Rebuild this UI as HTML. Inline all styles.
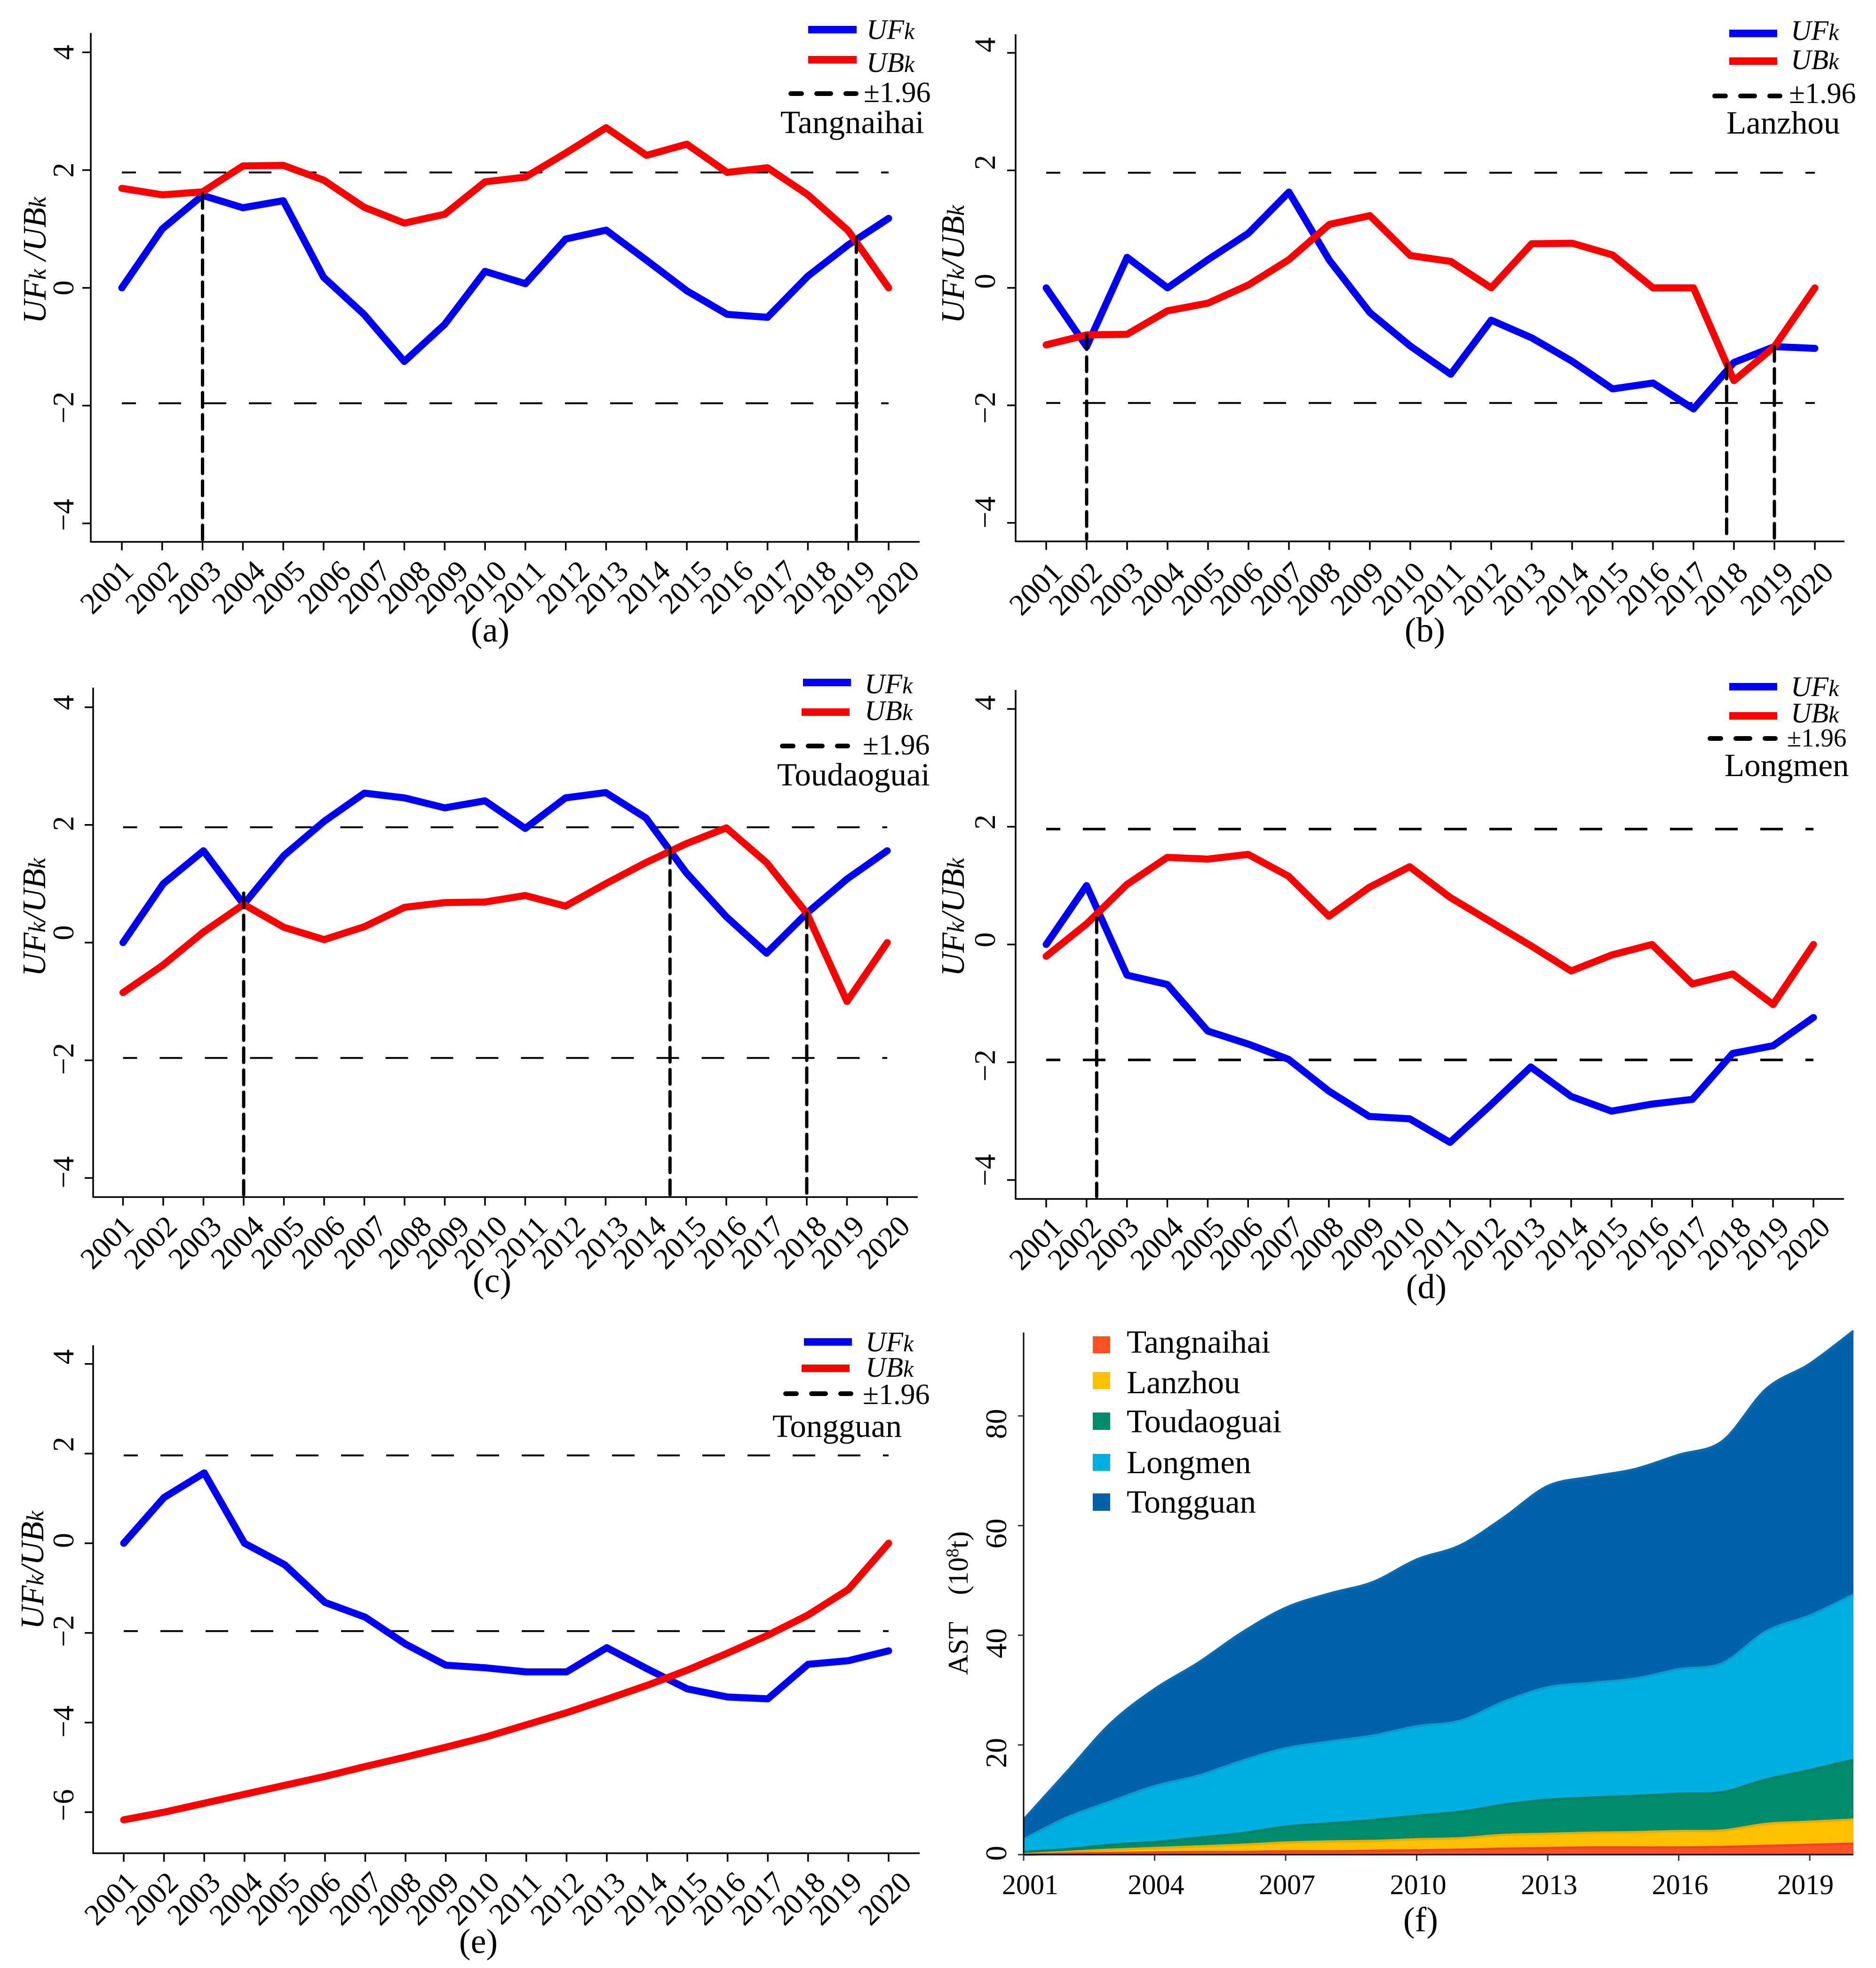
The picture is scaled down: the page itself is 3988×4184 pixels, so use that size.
<!DOCTYPE html>
<html lang="en">
<head>
<meta charset="utf-8">
<title>Mann-Kendall test panels and accumulated sediment area chart</title>
<style>
html,body{margin:0;padding:0;background:#fff;}
svg{display:block;}
text{font-family:"Liberation Serif","Times New Roman",serif;fill:#000;}
.lg{font-style:italic;font-size:60px;}
.lg tspan{font-size:50px;}
.ttl{font-style:italic;font-size:70px;}
.ttl tspan{font-size:52px;}
.num{font-size:62px;}
.st{font-size:69px;}
.pl{font-size:74px;text-anchor:middle;}
.ft{font-size:60px;}
</style>
</head>
<body>
<svg id="figure" xmlns="http://www.w3.org/2000/svg" width="3988" height="4184" viewBox="0 0 3988 4184">
<rect x="0" y="0" width="3988" height="4184" fill="#fff"/>

<g id="panel-a">
  <text class="ttl" transform="translate(97,688) rotate(-90)">UF<tspan>k</tspan> /UB<tspan>k</tspan></text>
  <rect x="1718" y="55" width="103" height="16" fill="#0000ff"/>
  <text class="lg" x="1842" y="83">UF<tspan>k</tspan></text>
  <rect x="1718" y="119" width="103" height="16" fill="#ff0000"/>
  <text class="lg" x="1842" y="153">UB<tspan>k</tspan></text>
  <line x1="1681" x2="1820" y1="199" y2="199" stroke="#000" stroke-width="10" stroke-linecap="round" stroke-dasharray="23 32 30 32 23"/>
  <text class="num" x="1836" y="217">±1.96</text>
  <text class="st" x="1659" y="283">Tangnaihai</text>
  <text class="pl" x="1042" y="1364">(a)</text>
</g>

<g id="panel-b">
  <text class="ttl" transform="translate(2049,688) rotate(-90)">UF<tspan>k</tspan>/UB<tspan>k</tspan></text>
  <rect x="3676" y="63" width="102" height="16" fill="#0000ff"/>
  <text class="lg" x="3807" y="85">UF<tspan>k</tspan></text>
  <rect x="3676" y="122" width="102" height="16" fill="#ff0000"/>
  <text class="lg" x="3807" y="147">UB<tspan>k</tspan></text>
  <line x1="3645" x2="3784" y1="204" y2="204" stroke="#000" stroke-width="10" stroke-linecap="round" stroke-dasharray="23 32 30 32 23"/>
  <text class="num" x="3803" y="219">±1.96</text>
  <text class="st" x="3670" y="284">Lanzhou</text>
  <text class="pl" x="3029" y="1364">(b)</text>
</g>

<g id="panel-c">
  <text class="ttl" transform="translate(96,2076) rotate(-90)">UF<tspan>k</tspan>/UB<tspan>k</tspan></text>
  <rect x="1707" y="1443" width="102" height="16" fill="#0000ff"/>
  <text class="lg" x="1838" y="1474">UF<tspan>k</tspan></text>
  <rect x="1704" y="1506" width="102" height="16" fill="#ff0000"/>
  <text class="lg" x="1838" y="1531">UB<tspan>k</tspan></text>
  <line x1="1663" x2="1802" y1="1586" y2="1586" stroke="#000" stroke-width="10" stroke-linecap="round" stroke-dasharray="23 32 30 32 23"/>
  <text class="num" x="1834" y="1604">±1.96</text>
  <text class="st" x="1652" y="1670">Toudaoguai</text>
  <text class="pl" x="1046" y="2747">(c)</text>
</g>

<g id="panel-d">
  <text class="ttl" transform="translate(2049,2076) rotate(-90)">UF<tspan>k</tspan>/UB<tspan>k</tspan></text>
  <rect x="3676" y="1452" width="102" height="16" fill="#0000ff"/>
  <text class="lg" x="3807" y="1480">UF<tspan>k</tspan></text>
  <rect x="3676" y="1514" width="102" height="16" fill="#ff0000"/>
  <text class="lg" x="3807" y="1536">UB<tspan>k</tspan></text>
  <line x1="3635" x2="3774" y1="1570" y2="1570" stroke="#000" stroke-width="10" stroke-linecap="round" stroke-dasharray="23 32 30 32 23"/>
  <text class="num" style="font-size:55px" x="3799" y="1587">±1.96</text>
  <text class="st" x="3666" y="1650">Longmen</text>
  <text class="pl" x="3032" y="2760">(d)</text>
</g>

<g id="panel-e">
  <text class="ttl" transform="translate(92,3464) rotate(-90)">UF<tspan>k</tspan>/UB<tspan>k</tspan></text>
  <rect x="1709" y="2845" width="102" height="16" fill="#0000ff"/>
  <text class="lg" x="1840" y="2873">UF<tspan>k</tspan></text>
  <rect x="1704" y="2901" width="102" height="16" fill="#ff0000"/>
  <text class="lg" x="1840" y="2927">UB<tspan>k</tspan></text>
  <line x1="1670" x2="1809" y1="2963" y2="2963" stroke="#000" stroke-width="10" stroke-linecap="round" stroke-dasharray="23 32 30 32 23"/>
  <text class="num" x="1834" y="2985">±1.96</text>
  <text class="st" x="1642" y="3055">Tongguan</text>
  <text class="pl" x="1017" y="4152">(e)</text>
</g>

<g id="panel-f">
  <g id="area-layer"></g>
  <g id="f-axes"></g>
  <text class="ft" transform="translate(2057,3561) rotate(-90)">AST</text>
  <text class="ft" transform="translate(2057,3391) rotate(-90)">(10<tspan font-size="38" dy="-20">8</tspan><tspan dy="20">t)</tspan></text>
  <rect x="2323" y="2841" width="37" height="36" fill="#ff5023"/>
  <text class="st" x="2395" y="2876">Tangnaihai</text>
  <rect x="2323" y="2917" width="37" height="36" fill="#ffc000"/>
  <text class="st" x="2395" y="2962">Lanzhou</text>
  <rect x="2323" y="3003" width="37" height="37" fill="#008c6a"/>
  <text class="st" style="font-size:70px" x="2395" y="3045">Toudaoguai</text>
  <rect x="2323" y="3091" width="37" height="36" fill="#00b0e0"/>
  <text class="st" x="2395" y="3132">Longmen</text>
  <rect x="2323" y="3175" width="37" height="37" fill="#0062ab"/>
  <text class="st" x="2395" y="3216">Tongguan</text>
  <text class="pl" x="3020" y="4106">(f)</text>
</g>
</svg>

<script>
// ---- shared categories and tick labels ----
const years = [2001,2002,2003,2004,2005,2006,2007,2008,2009,2010,2011,2012,2013,2014,2015,2016,2017,2018,2019,2020];
const mkYTicks = [-4,-2,0,2,4];
const mkYTicksTongguan = [-6,-4,-2,0,2,4];
const thresholdValues = [1.96,-1.96];

// ---- Mann-Kendall series ----
const ufTangnaihai = [0,1.0,1.57,1.36,1.48,0.18,-0.45,-1.25,-0.62,0.28,0.07,0.83,0.98,0.47,-0.05,-0.45,-0.5,0.2,0.73,1.18];
const ubTangnaihai = [1.69,1.58,1.63,2.07,2.08,1.83,1.37,1.10,1.25,1.80,1.88,2.29,2.72,2.25,2.44,1.96,2.04,1.58,0.97,0];
const changeYearsTangnaihai = [2003,2019.2];
const changeValuesTangnaihai = [1.6,0.85];

const ufLanzhou = [0,-1.0,0.52,0,0.48,0.93,1.63,0.47,-0.42,-0.99,-1.47,-0.55,-0.85,-1.25,-1.72,-1.62,-2.06,-1.27,-1.0,-1.03];
const ubLanzhou = [-0.97,-0.8,-0.79,-0.39,-0.26,0.05,0.48,1.08,1.23,0.55,0.45,0,0.75,0.76,0.56,0,0,-1.58,-1.0,0];
const changeYearsLanzhou = [2002,2017.82,2019];
const changeValuesLanzhou = [-0.8,-1.3,-1.0];

const ufToudaoguai = [0,1.0,1.56,0.65,1.48,2.06,2.54,2.46,2.29,2.41,1.94,2.46,2.55,2.12,1.19,0.44,-0.18,0.5,1.08,1.56];
const ubToudaoguai = [-0.85,-0.38,0.18,0.65,0.26,0.05,0.27,0.6,0.68,0.69,0.8,0.62,1.0,1.36,1.68,1.95,1.36,0.5,-1.0,0];
const changeYearsToudaoguai = [2004,2014.6,2018];
const changeValuesToudaoguai = [0.84,1.6,0.5];

const ufLongmen = [0,1.0,-0.52,-0.68,-1.47,-1.69,-1.95,-2.49,-2.92,-2.96,-3.36,-2.73,-2.08,-2.58,-2.83,-2.71,-2.63,-1.85,-1.72,-1.24];
const ubLongmen = [-0.2,0.35,1.02,1.48,1.45,1.53,1.16,0.48,0.97,1.32,0.8,0.39,-0.02,-0.45,-0.18,0,-0.67,-0.5,-1.02,0];
const changeYearsLongmen = [2002.25];
const changeValuesLongmen = [0.45];

const ufTongguan = [0,1.02,1.57,0,-0.48,-1.32,-1.65,-2.25,-2.72,-2.78,-2.87,-2.87,-2.33,-2.8,-3.25,-3.43,-3.47,-2.7,-2.62,-2.4];
const ubTongguan = [-6.17,-6.0,-5.8,-5.6,-5.4,-5.2,-4.98,-4.77,-4.55,-4.32,-4.05,-3.78,-3.48,-3.17,-2.83,-2.45,-2.05,-1.6,-1.03,0];
const changeYearsTongguan = [];
const changeValuesTongguan = [];

// ---- stacked area series (per-station contribution, 10^8 t) ----
const astYTicks = [0,20,40,60,80];
const astXTicks = [2001,2004,2007,2010,2013,2016,2019];
const astTangnaihai = [0,0.2,0.3,0.4,0.5,0.5,0.6,0.6,0.7,0.8,0.9,1.1,1.2,1.3,1.3,1.3,1.4,1.6,1.8,2.0];
const astLanzhou = [0.1,0.3,0.6,0.8,1.0,1.3,1.6,1.8,1.8,2.0,2.1,2.5,2.6,2.7,2.8,3.0,3.0,4.0,4.2,4.4];
const astToudaoguai = [0.4,0.5,0.9,1.1,1.6,2.1,2.9,3.3,3.8,4.3,4.8,5.5,6.2,6.4,6.6,6.8,7.0,8.1,9.4,10.9];
const astLongmen = [2.3,5.8,7.9,10.2,11.3,13.2,14.3,14.9,15.4,16.3,16.6,18.8,20.5,20.9,21.4,22.7,23.5,27.0,28.2,30.1];
const astTongguan = [3.6,8.4,14.3,17.7,20.6,23.4,25.6,27.0,28.0,30.4,32.0,33.6,36.7,37.6,38.2,39.1,40.5,44.2,45.9,48.1];

const SVG_NS = 'http://www.w3.org/2000/svg';
function mk(parent, tag, attrs) {
  const n = document.createElementNS(SVG_NS, tag);
  for (const k in attrs) n.setAttribute(k, attrs[k]);
  parent.appendChild(n);
  return n;
}
function fmt(v) { return v < 0 ? '\u2212' + Math.abs(v) : String(v); }

function drawMkPanel(groupId, geo, uf, ub, changeYears, changeValues, yTicks) {
  const root = document.getElementById(groupId);
  const g = mk(root, 'g', {});
  
  
  const xAt = y => geo.x2001 + (y - 2001) * (geo.x2020 - geo.x2001) / 19;
  const yAt = v => geo.y0 - v * geo.perUnit;

  thresholdValues.forEach(t => {
    const h = mk(g, 'line', {x1: xAt(2001), x2: xAt(2020), y1: yAt(t), y2: yAt(t), stroke: '#000', 'stroke-width': geo.dashW, 'stroke-dasharray': '48 48', 'stroke-dashoffset': 18});
    
    
  });

  const points = arr => arr.map((v, i) => xAt(years[i]).toFixed(1) + ',' + yAt(v).toFixed(1)).join(' ');
  const ufLine = mk(g, 'polyline', {points: points(uf), fill: 'none', stroke: '#0000ff', 'stroke-width': 15, 'stroke-linejoin': 'round', 'stroke-linecap': 'round'});
  
  
  const ubLine = mk(g, 'polyline', {points: points(ub), fill: 'none', stroke: '#ff0000', 'stroke-width': 15, 'stroke-linejoin': 'round', 'stroke-linecap': 'round'});
  
  

  changeYears.forEach((yr, i) => {
    const v = mk(g, 'line', {x1: xAt(yr), x2: xAt(yr), y1: yAt(changeValues[i]), y2: geo.bottom - 5, stroke: '#000', 'stroke-width': 7, 'stroke-linecap': 'round', 'stroke-dasharray': '31 16'});
    
    
  });

  const yAxis = mk(g, 'line', {x1: geo.left, x2: geo.left, y1: geo.top, y2: geo.bottom + 1.5, stroke: '#000', 'stroke-width': 3.5});
  
  
  const xAxis = mk(g, 'line', {x1: geo.left, x2: geo.right, y1: geo.bottom, y2: geo.bottom, stroke: '#000', 'stroke-width': 3.5});
  
  

  yTicks.forEach(t => {
    const tick = mk(g, 'line', {x1: geo.left - 18, x2: geo.left, y1: yAt(t), y2: yAt(t), stroke: '#000', 'stroke-width': 3.5});
    
    
    const lab = mk(g, 'text', {transform: 'translate(' + geo.yLabelX + ',' + (yAt(t) + (geo.yLabelShift[t] || 0)) + ') rotate(-90)', 'text-anchor': 'middle', 'font-size': 64});
    
    
    lab.textContent = fmt(t);
  });

  years.forEach((yr, i) => {
    const tick = mk(g, 'line', {x1: xAt(yr), x2: xAt(yr), y1: geo.bottom, y2: geo.bottom + 18, stroke: '#000', 'stroke-width': 3.5});
    
    
    const lab = mk(g, 'text', {transform: 'translate(' + (xAt(yr) + geo.labelShift[i]) + ',' + (geo.bottom + geo.labDy) + ') rotate(-45)', 'text-anchor': 'end', 'font-size': 64});
    
    
    lab.textContent = yr;
  });
}

drawMkPanel('panel-a', {left:193,right:1955,top:70,bottom:1152,x2001:259,x2020:1889,y0:612,perUnit:125.2,yLabelX:156,labDy:66,dashW:4,
  yLabelShift:{'-4':-18,'-2':4},
  labelShift:[28,38,43,51,51,61,61,59,54,50,46,54,51,54,57,59,65,64,61,69]}, ufTangnaihai, ubTangnaihai, changeYearsTangnaihai, changeValuesTangnaihai, mkYTicks);
drawMkPanel('panel-b', {left:2159,right:3921,top:73,bottom:1151,x2001:2224,x2020:3858,y0:612,perUnit:124.9,yLabelX:2115,labDy:70,dashW:4,
  yLabelShift:{'-4':-22,'-2':5,'0':-14,'2':-17,'4':-17},
  labelShift:[38,36,38,40,39,35,35,27,33,35,34,35,34,39,38,39,34,33,44,43]}, ufLanzhou, ubLanzhou, changeYearsLanzhou, changeValuesLanzhou, mkYTicks);
drawMkPanel('panel-c', {left:198,right:1951,top:1462,bottom:2545,x2001:261.5,x2020:1886,y0:2004,perUnit:125.1,yLabelX:156,labDy:66,dashW:4,
  yLabelShift:{'-4':-12,'-2':-3,'0':-21,'2':-3,'4':-10},
  labelShift:[26,33,42,47,47,48,52,61,56,51,51,46,52,47,47,47,42,46,41,52]}, ufToudaoguai, ubToudaoguai, changeYearsToudaoguai, changeValuesToudaoguai, mkYTicks);
drawMkPanel('panel-d', {left:2159,right:3920,top:1467,bottom:2549,x2001:2224,x2020:3855,y0:2008,perUnit:125.2,yLabelX:2115,labDy:64,dashW:5.5,
  yLabelShift:{'-4':-21,'-2':7,'0':-10,'2':-10,'4':-13},
  labelShift:[38,34,29,38,39,35,36,35,36,36,35,36,35,40,39,40,39,42,38,39]}, ufLongmen, ubLongmen, changeYearsLongmen, changeValuesLongmen, mkYTicks);
drawMkPanel('panel-e', {left:198,right:1955,top:2860,bottom:3940,x2001:263,x2020:1889,y0:3281,perUnit:95.3,yLabelX:156,labDy:66,dashW:4,
  yLabelShift:{'-6':-15,'-4':-2,'-2':-4,'0':-6,'2':-20,'4':-15},
  labelShift:[33,34,38,42,36,37,40,37,32,32,36,40,43,47,47,42,40,40,33,52]}, ufTongguan, ubTongguan, changeYearsTongguan, changeValuesTongguan, mkYTicksTongguan);

// ---- panel f: stacked area ----
(function drawArea() {
  const left = 2176, right = 3940, base = 3943, top = 2833;
  const xAt = y => left + (y - 2001) * (right - left) / 19;
  const yAt = v => base - v * 11.66;
  const stackOrder = [astTangnaihai, astLanzhou, astToudaoguai, astLongmen, astTongguan];
  const fills = ['#ff5023', '#ffc000', '#008c6a', '#00b0e0', '#0062ab'];
  const edges = ['#e8481f', '#e6ad05', '#067f62', '#0a9ccb', '#0a6cae'];
  const names = ['tangnaihai', 'lanzhou', 'toudaoguai', 'longmen', 'tongguan'];
  const cumulative = [];
  stackOrder.forEach((s, i) => {
    cumulative.push(s.map((v, j) => v + (i ? cumulative[i - 1][j] : 0)));
  });
  function curve(vals) {
    const p = vals.map((v, i) => [xAt(years[i]), yAt(v)]);
    let d = '';
    for (let i = 0; i < p.length - 1; i++) {
      const p0 = p[Math.max(i - 1, 0)], p1 = p[i], p2 = p[i + 1], p3 = p[Math.min(i + 2, p.length - 1)];
      const c1x = p1[0] + (p2[0] - p0[0]) / 6, c1y = p1[1] + (p2[1] - p0[1]) / 6;
      const c2x = p2[0] - (p3[0] - p1[0]) / 6, c2y = p2[1] - (p3[1] - p1[1]) / 6;
      d += 'C' + c1x.toFixed(1) + ' ' + c1y.toFixed(1) + ' ' + c2x.toFixed(1) + ' ' + c2y.toFixed(1) + ' ' + p2[0].toFixed(1) + ' ' + p2[1].toFixed(1);
    }
    return {start: p[0], d: d};
  }
  const layer = document.getElementById('area-layer');
  for (let i = stackOrder.length - 1; i >= 0; i--) {
    const c = curve(cumulative[i]);
    const area = mk(layer, 'path', {d: 'M' + c.start[0] + ' ' + c.start[1] + c.d + 'L' + right + ' ' + base + 'L' + left + ' ' + base + 'Z', fill: fills[i]});
    
    
    const edge = mk(layer, 'path', {d: 'M' + c.start[0] + ' ' + c.start[1] + c.d, fill: 'none', stroke: edges[i], 'stroke-width': 5});
    
    
  }
  const axes = document.getElementById('f-axes');
  const yAxis = mk(axes, 'line', {x1: left, x2: left, y1: top, y2: base, stroke: '#000', 'stroke-width': 3});
  
  
  const xAxis = mk(axes, 'line', {x1: left, x2: right, y1: base, y2: base, stroke: '#000', 'stroke-width': 3});
  
  
  astYTicks.forEach(t => {
    const tick = mk(axes, 'line', {x1: left - 12, x2: left, y1: yAt(t), y2: yAt(t), stroke: '#333', 'stroke-width': 3});
    
    
    const lab = mk(axes, 'text', {transform: 'translate(2139,' + (yAt(t) + (t === 0 ? -3 : 17)) + ') rotate(-90)', 'text-anchor': 'middle', 'font-size': 64});
    
    
    lab.textContent = t;
  });
  astXTicks.forEach(yr => {
    const tick = mk(axes, 'line', {x1: xAt(yr), x2: xAt(yr), y1: base, y2: base + 13, stroke: '#333', 'stroke-width': 3});
    
    
    const lab = mk(axes, 'text', {x: xAt(yr) + (yr === 2019 ? -9 : yr === 2001 ? 14 : 3), y: 4027, 'text-anchor': 'middle', 'font-size': 60});
    
    
    lab.textContent = yr;
  });
})();
</script>
</body>
</html>
